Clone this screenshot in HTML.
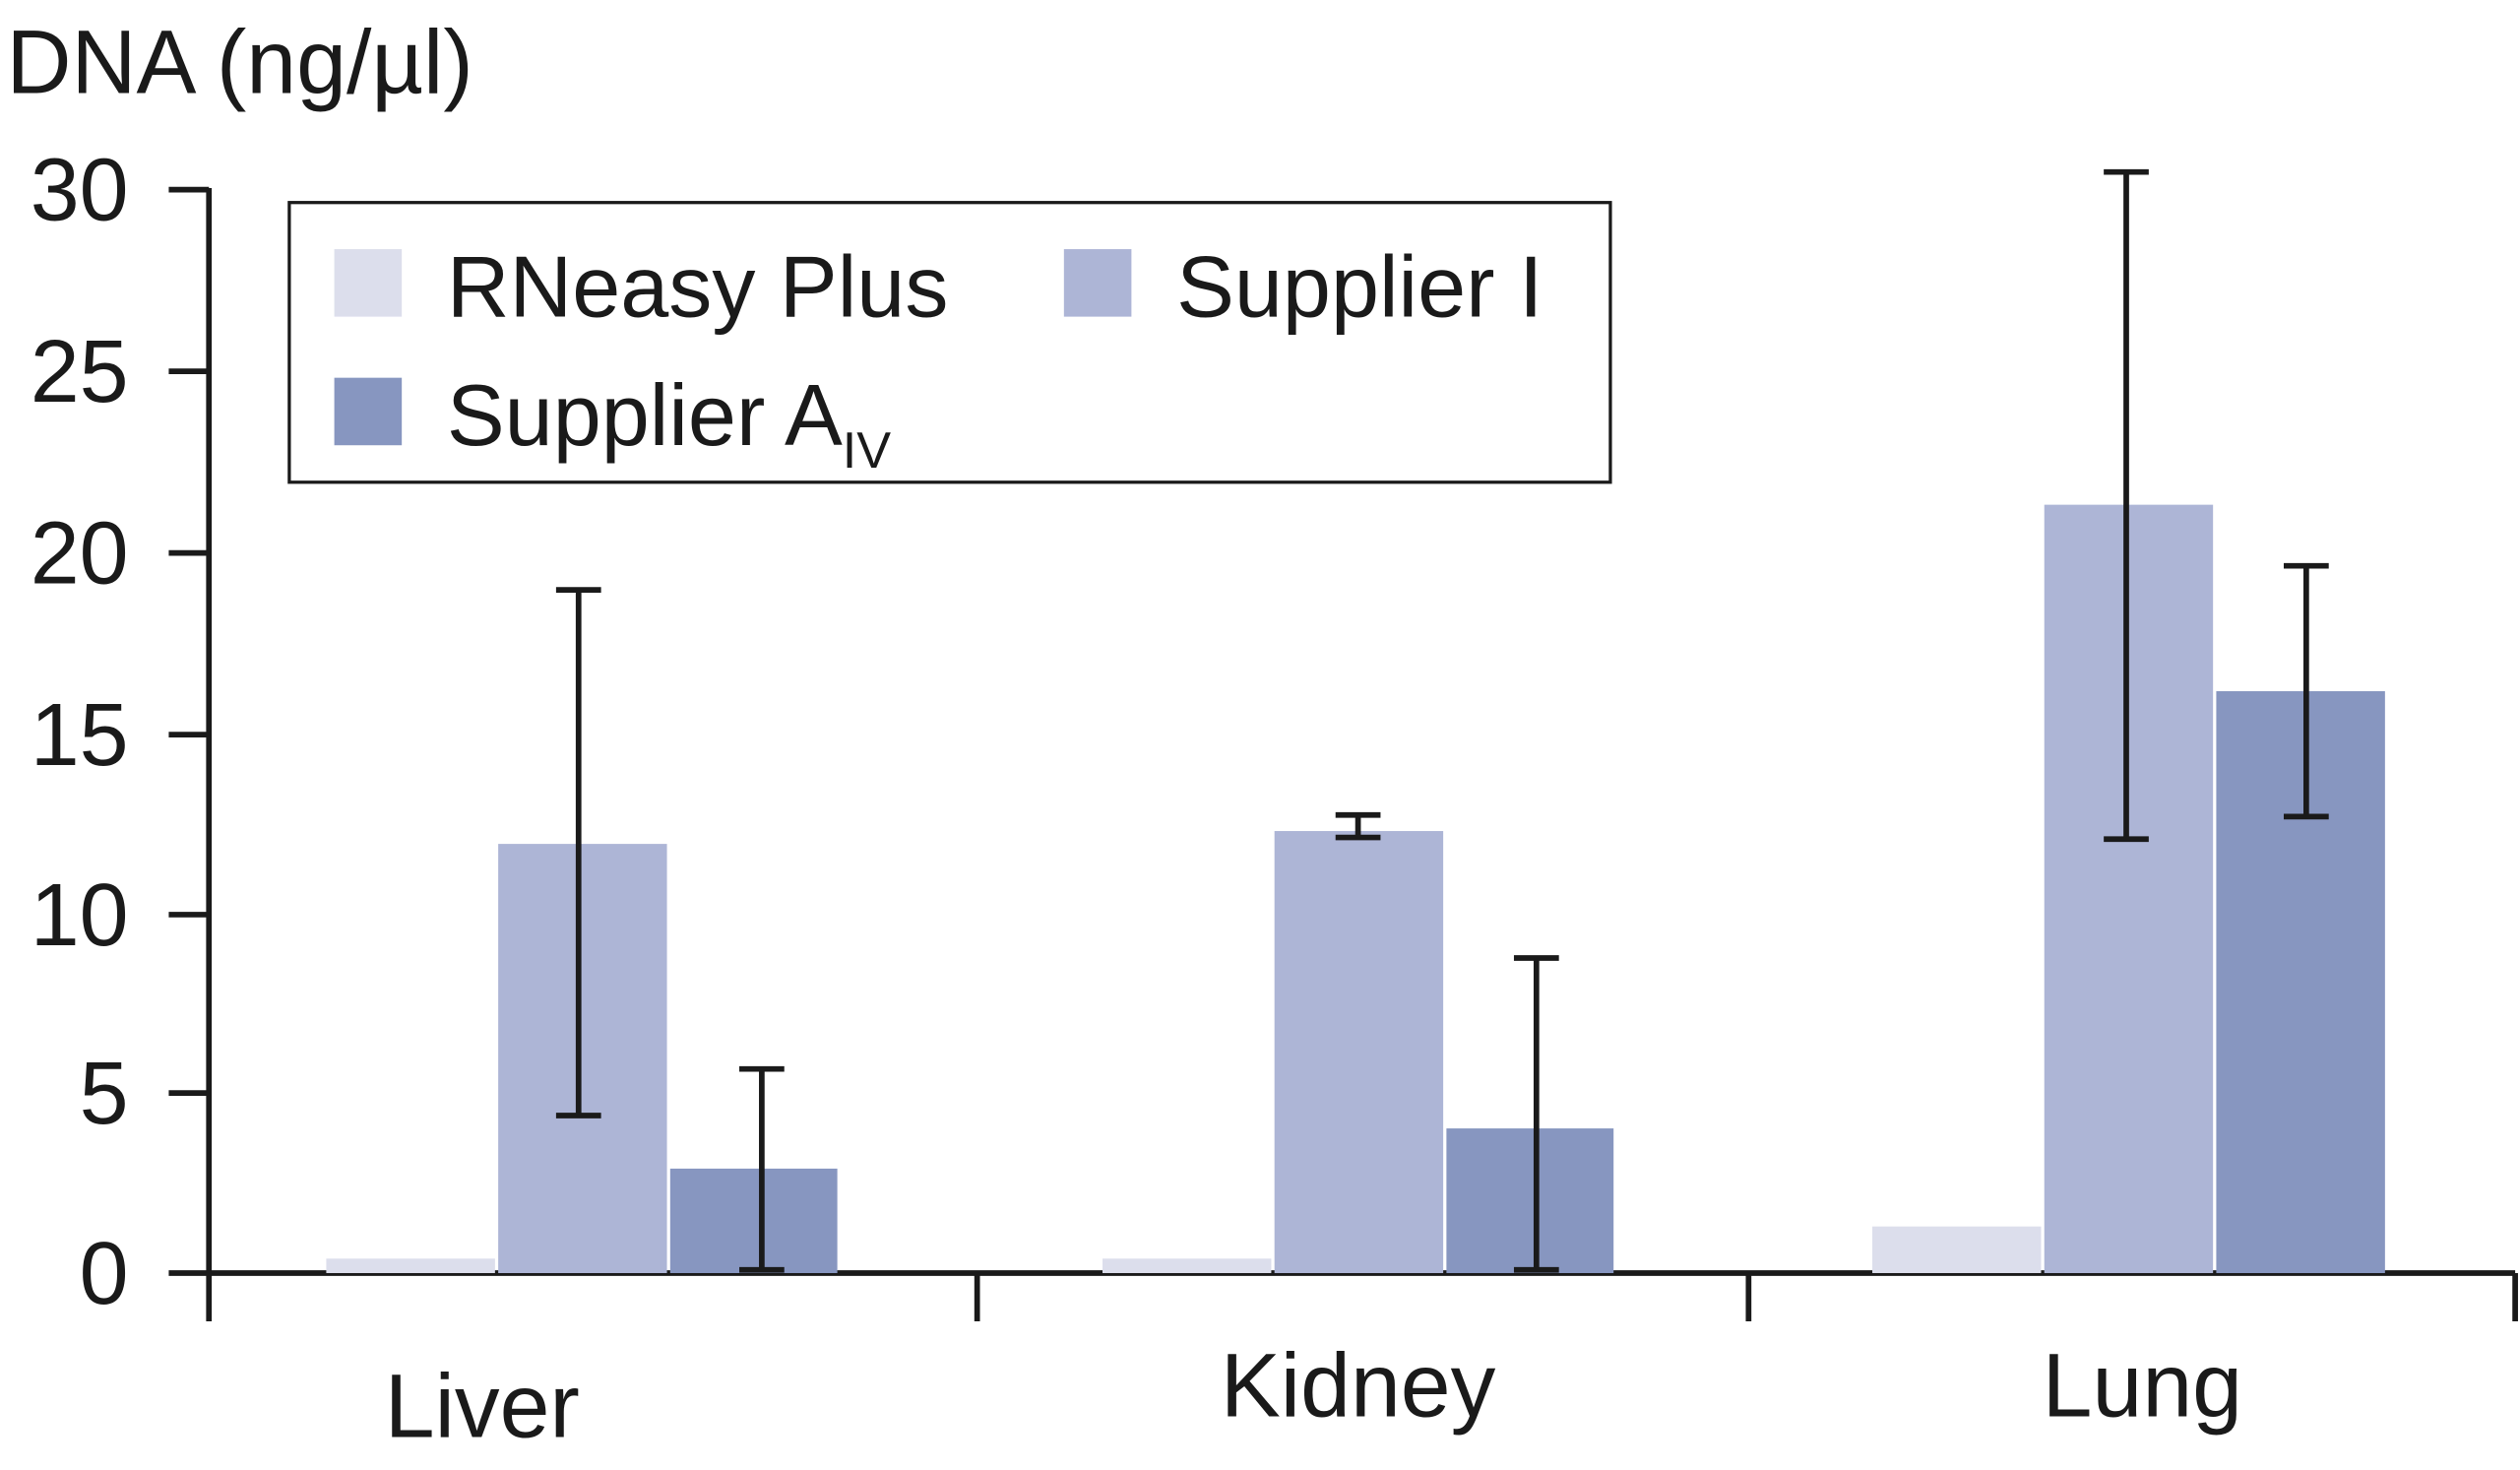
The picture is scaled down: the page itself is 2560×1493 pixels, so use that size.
<!DOCTYPE html>
<html><head><meta charset="utf-8"><style>
html,body{margin:0;padding:0;background:#fff;}
svg{display:block;}
text{font-family:"Liberation Sans",sans-serif;fill:#1a1a1a;}
</style></head><body>
<svg width="2560" height="1493" viewBox="0 0 1568 914.5" preserveAspectRatio="none" xmlns="http://www.w3.org/2000/svg">
<rect width="1568" height="914.5" fill="#fff"/>
<text x="4" y="58" font-size="56">DNA (ng/µl)</text>
<g font-size="55" text-anchor="end">
<text x="80" y="137">30</text>
<text x="80" y="250">25</text>
<text x="80" y="363">20</text>
<text x="80" y="476">15</text>
<text x="80" y="588">10</text>
<text x="80" y="699">5</text>
<text x="80" y="811">0</text>
</g>
<g stroke="#1a1a1a" stroke-width="3.5" fill="none">
<line x1="130" y1="117" x2="130" y2="822"/>
<line x1="105" y1="118" x2="130" y2="118"/>
<line x1="105" y1="231" x2="130" y2="231"/>
<line x1="105" y1="344" x2="130" y2="344"/>
<line x1="105" y1="457" x2="130" y2="457"/>
<line x1="105" y1="569" x2="130" y2="569"/>
<line x1="105" y1="680" x2="130" y2="680"/>
<line x1="105" y1="792" x2="1565" y2="792"/>
<line x1="608" y1="792" x2="608" y2="822"/>
<line x1="1088" y1="792" x2="1088" y2="822"/>
<line x1="1565" y1="792" x2="1565" y2="822"/>
</g>
<g>
<rect x="203" y="783" width="105" height="9" fill="#dcdeec"/>
<rect x="310" y="525" width="105" height="267" fill="#adb5d6"/>
<rect x="417" y="727" width="104" height="65" fill="#8796c0"/>
<rect x="686" y="783" width="105" height="9" fill="#dcdeec"/>
<rect x="793" y="517" width="105" height="275" fill="#adb5d6"/>
<rect x="900" y="702" width="104" height="90" fill="#8796c0"/>
<rect x="1165" y="763" width="105" height="29" fill="#dcdeec"/>
<rect x="1272" y="314" width="105" height="478" fill="#adb5d6"/>
<rect x="1379" y="430" width="105" height="362" fill="#8796c0"/>
</g>
<g stroke="#1a1a1a" stroke-width="3.5" fill="none">
<path d="M360 367V694M346 367H374M346 694H374"/>
<path d="M474 665V790M460 665H488M460 790H488"/>
<path d="M845 507V521M831 507H859M831 521H859"/>
<path d="M956 596V790M942 596H970M942 790H970"/>
<path d="M1323 107V522M1309 107H1337M1309 522H1337"/>
<path d="M1435 352V508M1421 352H1449M1421 508H1449"/>
</g>
<rect x="180" y="126" width="822" height="174" fill="#fff" stroke="#1a1a1a" stroke-width="2"/>
<rect x="208" y="155" width="42" height="42" fill="#dcdeec"/>
<rect x="662" y="155" width="42" height="42" fill="#adb5d6"/>
<rect x="208" y="235" width="42" height="42" fill="#8796c0"/>
<g font-size="54">
<text x="278" y="197">RNeasy Plus</text>
<text x="732" y="197">Supplier I</text>
<text x="278" y="277">Supplier A<tspan font-size="32" dy="14">IV</tspan></text>
</g>
<g font-size="56" text-anchor="middle">
<text x="300" y="894">Liver</text>
<text x="845" y="881">Kidney</text>
<text x="1333" y="881">Lung</text>
</g>
</svg>
</body></html>
